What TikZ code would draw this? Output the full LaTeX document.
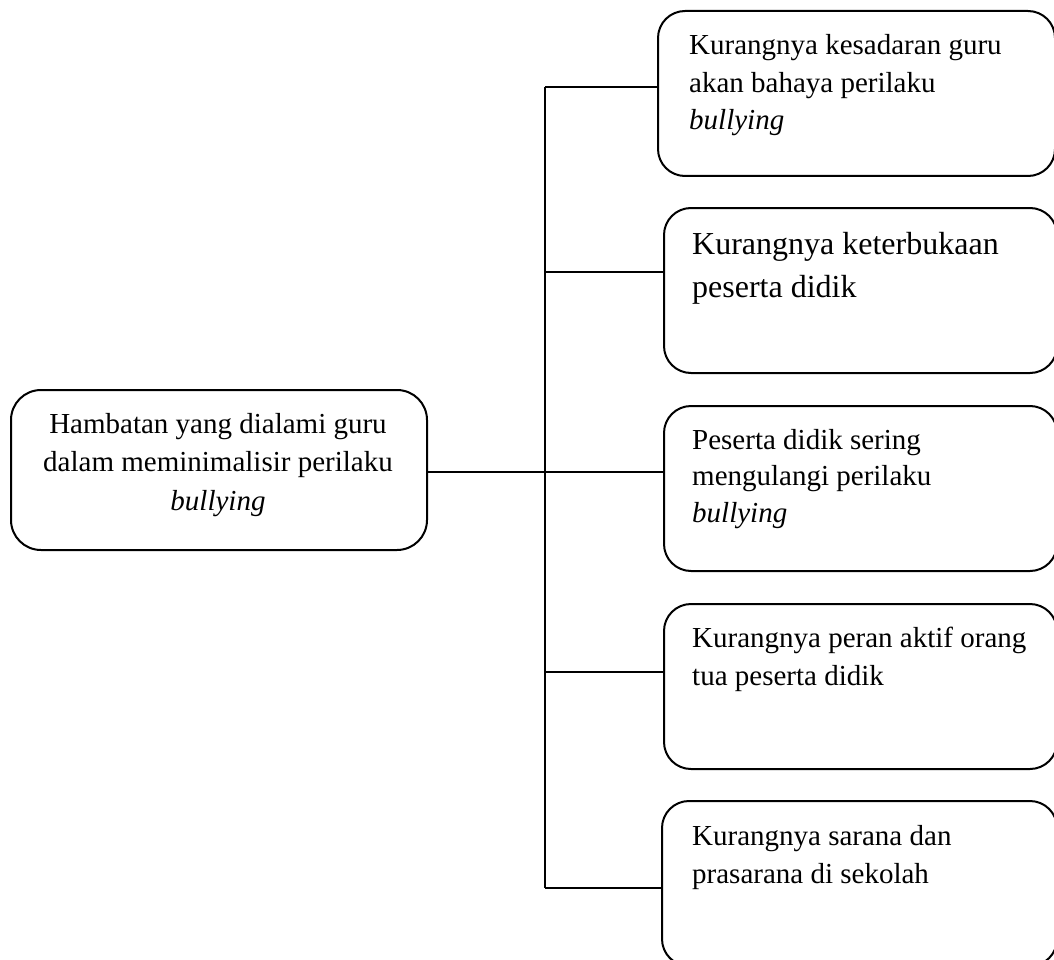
\documentclass[tikz,border=0pt]{standalone}
\usepackage{fontspec}
\setmainfont{Liberation Serif}
\begin{document}
\begin{tikzpicture}[x=1pt,y=-1pt,
  box/.style={draw,line width=2pt,rounded corners=27pt,inner sep=0pt,minimum width=393pt,minimum height=165pt,anchor=north west},
  mainbox/.style={draw,line width=2pt,rounded corners=30pt,inner sep=0pt,minimum width=416pt,minimum height=160pt,anchor=north west},
  txt/.style={inner sep=0pt,anchor=base west,align=left,font=\fontsize{29}{37.5}\selectfont},
  link/.style={line width=2pt}]
\useasboundingbox (0,0) rectangle (1054,960);
\clip (0,0) rectangle (1054,960);
% main box
\node[mainbox] (m) at (10,389) {};
\node[inner sep=0pt,anchor=base,align=center,font=\fontsize{29}{38.5}\selectfont] (mt) at (218,510)
  {Hambatan yang dialami guru\\dalam meminimalisir perilaku\\\textit{bullying}};
% right boxes
\node[box,minimum width=397pt] (b1) at (657,10) {};
\node[box] (b2) at (663,207) {};
\node[box] (b3) at (663,405) {};
\node[box] (b4) at (663,603) {};
\node[box,minimum width=395pt] (b5) at (661,800) {};
% texts
\node[txt] (t1) at (689,130) {Kurangnya kesadaran guru\\akan bahaya perilaku\\\textit{bullying}};
\node[txt,font=\fontsize{32}{43}\selectfont] (t2) at (692,297) {Kurangnya keterbukaan\\peserta didik};
\node[txt,font=\fontsize{29}{36.5}\selectfont] (t3) at (692,522) {Peserta didik sering\\mengulangi perilaku\\\textit{bullying}};
\node[txt,font=\fontsize{29}{38}\selectfont] (t4) at (692,685) {Kurangnya peran aktif orang\\tua peserta didik};
\node[txt,font=\fontsize{29}{38}\selectfont] (t5) at (692,883) {Kurangnya sarana dan\\prasarana di sekolah};
% spine
\coordinate (s1) at (545,87);
\coordinate (s2) at (545,272);
\coordinate (s3) at (545,472);
\coordinate (s4) at (545,672);
\coordinate (s5) at (545,888);
\draw[link] (s1) -- (s5);
\draw[link] (s1) -- (b1.west |- s1);
\draw[link] (s2) -- (b2.west |- s2);
\draw[link] (m.east |- s3) -- (b3.west |- s3);
\draw[link] (s4) -- (b4.west |- s4);
\draw[link] (s5) -- (b5.west |- s5);
\end{tikzpicture}
\end{document}
